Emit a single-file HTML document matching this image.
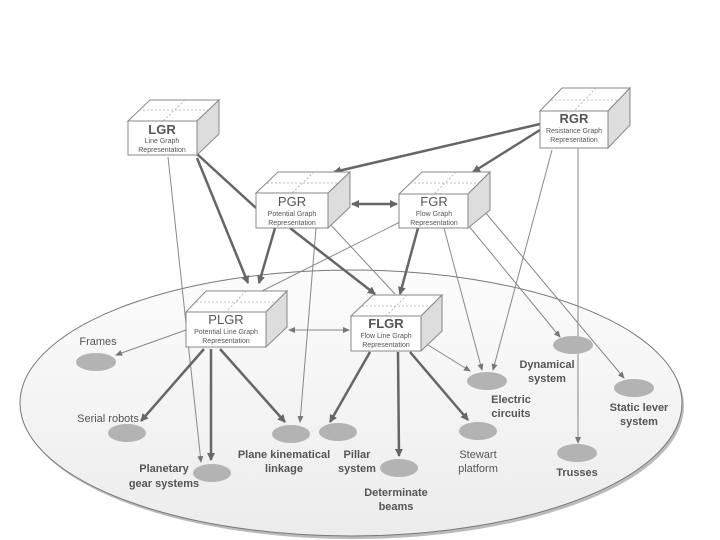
<!DOCTYPE html>
<html><head><meta charset="utf-8"><style>
html,body{margin:0;padding:0;background:#fff;}
svg{display:block;font-family:"Liberation Sans",Arial,sans-serif;}
.b{font-weight:bold;fill:#555;font-size:11px;}
.n{fill:#555;font-size:11px;}
</style></head><body>
<svg width="720" height="540" viewBox="0 0 720 540">
<defs>
<marker id="A" markerWidth="8" markerHeight="8" refX="7" refY="4" orient="auto" markerUnits="userSpaceOnUse"><path d="M0,0 L8,4 L0,8 z" fill="#666"/></marker>
<marker id="As" markerWidth="8" markerHeight="8" refX="1" refY="4" orient="auto" markerUnits="userSpaceOnUse"><path d="M8,0 L0,4 L8,8 z" fill="#666"/></marker>
<marker id="a" markerWidth="7" markerHeight="6" refX="6" refY="3" orient="auto" markerUnits="userSpaceOnUse"><path d="M0,0 L7,3 L0,6 z" fill="#777"/></marker>
<marker id="as" markerWidth="7" markerHeight="6" refX="1" refY="3" orient="auto" markerUnits="userSpaceOnUse"><path d="M7,0 L0,3 L7,6 z" fill="#777"/></marker>
<linearGradient id="g" x1="0" y1="0" x2="0" y2="1"><stop offset="0" stop-color="#fcfcfc"/><stop offset="1" stop-color="#ececec"/></linearGradient>
</defs>
<ellipse cx="353" cy="406" rx="331" ry="133" fill="#bbb"/>
<ellipse cx="351" cy="403" rx="331" ry="133" fill="url(#g)" stroke="#777" stroke-width="1"/>

<g stroke="#888" stroke-width="1" fill="none" marker-end="url(#a)">
<line x1="168" y1="157" x2="201" y2="462"/>
<line x1="316" y1="228" x2="300" y2="422"/>
<line x1="328" y1="222" x2="395" y2="294" marker-end="none"/>
<line x1="400" y1="222" x2="262" y2="291" marker-end="none"/>
<line x1="186" y1="330" x2="116" y2="355"/>
<line x1="444" y1="228" x2="482" y2="370"/>
<line x1="468" y1="225" x2="560" y2="337"/>
<line x1="485" y1="212" x2="624" y2="378"/>
<line x1="552" y1="150" x2="493" y2="370"/>
<line x1="578" y1="148" x2="578" y2="443"/>
<line x1="420" y1="340" x2="470" y2="371"/>
<line x1="289" y1="330" x2="349" y2="330" marker-start="url(#as)"/>
</g>

<g stroke="#666" stroke-width="2.5" fill="none" marker-end="url(#A)">
<line x1="197" y1="154" x2="256" y2="208" marker-end="none"/>
<line x1="197" y1="158" x2="248" y2="283"/>
<line x1="540" y1="124" x2="334" y2="172"/>
<line x1="540" y1="130" x2="473" y2="172"/>
<line x1="352" y1="204" x2="397" y2="204" marker-start="url(#As)"/>
<line x1="275" y1="228" x2="259" y2="283"/>
<line x1="290" y1="228" x2="375" y2="294"/>
<line x1="418" y1="228" x2="400" y2="294"/>
<line x1="204" y1="349" x2="141" y2="421"/>
<line x1="211" y1="349" x2="211" y2="460"/>
<line x1="220" y1="349" x2="285" y2="422"/>
<line x1="370" y1="352" x2="330" y2="422"/>
<line x1="398" y1="352" x2="399" y2="456"/>
<line x1="410" y1="352" x2="468" y2="420"/>
</g>

<g stroke="#888" stroke-width="1">
<polygon points="128,121 150,100 219,100 197,121" fill="#fff"/>
<polygon points="197,121 219,100 219,134 197,155" fill="#ddd"/>
<rect x="128" y="121" width="69" height="34" fill="#fff"/>
<polygon points="540,111 562,88 630,88 608,111" fill="#fff"/>
<polygon points="608,111 630,88 630,125 608,148" fill="#ddd"/>
<rect x="540" y="111" width="68" height="37" fill="#fff"/>
<polygon points="256,193 278,172 350,172 328,193" fill="#fff"/>
<polygon points="328,193 350,172 350,207 328,228" fill="#ddd"/>
<rect x="256" y="193" width="72" height="35" fill="#fff"/>
<polygon points="399,194 422,172 490,172 468,194" fill="#fff"/>
<polygon points="468,194 490,172 490,210 468,228" fill="#ddd"/>
<rect x="399" y="194" width="69" height="34" fill="#fff"/>
<polygon points="186,312 206,291 287,291 266,312" fill="#fff"/>
<polygon points="266,312 287,291 287,327 266,347" fill="#ddd"/>
<rect x="186" y="312" width="80" height="35" fill="#fff"/>
<polygon points="351,316 373,295 442,295 421,316" fill="#fff"/>
<polygon points="421,316 442,295 442,331 421,351" fill="#ddd"/>
<rect x="351" y="316" width="70" height="35" fill="#fff"/>
</g>
<g stroke="#aaa" stroke-width="0.8" stroke-dasharray="2,2" fill="none">
<line x1="139" y1="110" x2="208" y2="110"/><line x1="185" y1="100" x2="163" y2="121"/>
<line x1="551" y1="100" x2="619" y2="100"/><line x1="596" y1="88" x2="574" y2="111"/>
<line x1="267" y1="183" x2="339" y2="183"/><line x1="314" y1="172" x2="292" y2="193"/>
<line x1="410" y1="183" x2="479" y2="183"/><line x1="456" y1="172" x2="434" y2="194"/>
<line x1="196" y1="302" x2="276" y2="302"/><line x1="246" y1="291" x2="226" y2="312"/>
<line x1="362" y1="306" x2="431" y2="306"/><line x1="407" y1="295" x2="386" y2="316"/>
</g>
<g text-anchor="middle" fill="#555">
<text x="162" y="134" font-size="13" font-weight="bold">LGR</text>
<text x="162" y="143" font-size="7">Line Graph</text><text x="162" y="152" font-size="7">Representation</text>
<text x="574" y="123" font-size="13" font-weight="bold">RGR</text>
<text x="574" y="133" font-size="7">Resistance Graph</text><text x="574" y="142" font-size="7">Representation</text>
<text x="292" y="206" font-size="13">PGR</text>
<text x="292" y="216" font-size="7">Potential Graph</text><text x="292" y="225" font-size="7">Representation</text>
<text x="434" y="206" font-size="13">FGR</text>
<text x="434" y="216" font-size="7">Flow Graph</text><text x="434" y="225" font-size="7">Representation</text>
<text x="226" y="324" font-size="13">PLGR</text>
<text x="226" y="334" font-size="7">Potential Line Graph</text><text x="226" y="343" font-size="7">Representation</text>
<text x="386" y="328" font-size="13" font-weight="bold">FLGR</text>
<text x="386" y="338" font-size="7">Flow Line Graph</text><text x="386" y="347" font-size="7">Representation</text>
</g>

<g fill="#b3b3b3">
<ellipse cx="96" cy="362" rx="20" ry="9"/>
<ellipse cx="127" cy="433" rx="19" ry="9"/>
<ellipse cx="212" cy="473" rx="19" ry="9"/>
<ellipse cx="291" cy="434" rx="19" ry="9"/>
<ellipse cx="338" cy="432" rx="19" ry="9"/>
<ellipse cx="399" cy="468" rx="19" ry="9"/>
<ellipse cx="478" cy="431" rx="19" ry="9"/>
<ellipse cx="487" cy="381" rx="20" ry="9"/>
<ellipse cx="573" cy="345" rx="20" ry="9"/>
<ellipse cx="634" cy="388" rx="20" ry="9"/>
<ellipse cx="577" cy="453" rx="20" ry="9"/>
</g>
<g text-anchor="middle">
<text class="n" x="98" y="345">Frames</text>
<text class="n" x="108" y="422">Serial robots</text>
<text class="b" x="164" y="472">Planetary</text><text class="b" x="164" y="487">gear systems</text>
<text class="b" x="284" y="458">Plane kinematical</text><text class="b" x="284" y="472">linkage</text>
<text class="b" x="357" y="458">Pillar</text><text class="b" x="357" y="472">system</text>
<text class="b" x="396" y="496">Determinate</text><text class="b" x="396" y="510">beams</text>
<text class="n" x="478" y="458">Stewart</text><text class="n" x="478" y="472">platform</text>
<text class="b" x="511" y="403">Electric</text><text class="b" x="511" y="417">circuits</text>
<text class="b" x="547" y="368">Dynamical</text><text class="b" x="547" y="382">system</text>
<text class="b" x="639" y="411">Static lever</text><text class="b" x="639" y="425">system</text>
<text class="b" x="577" y="476">Trusses</text>
</g>
</svg>
</body></html>
